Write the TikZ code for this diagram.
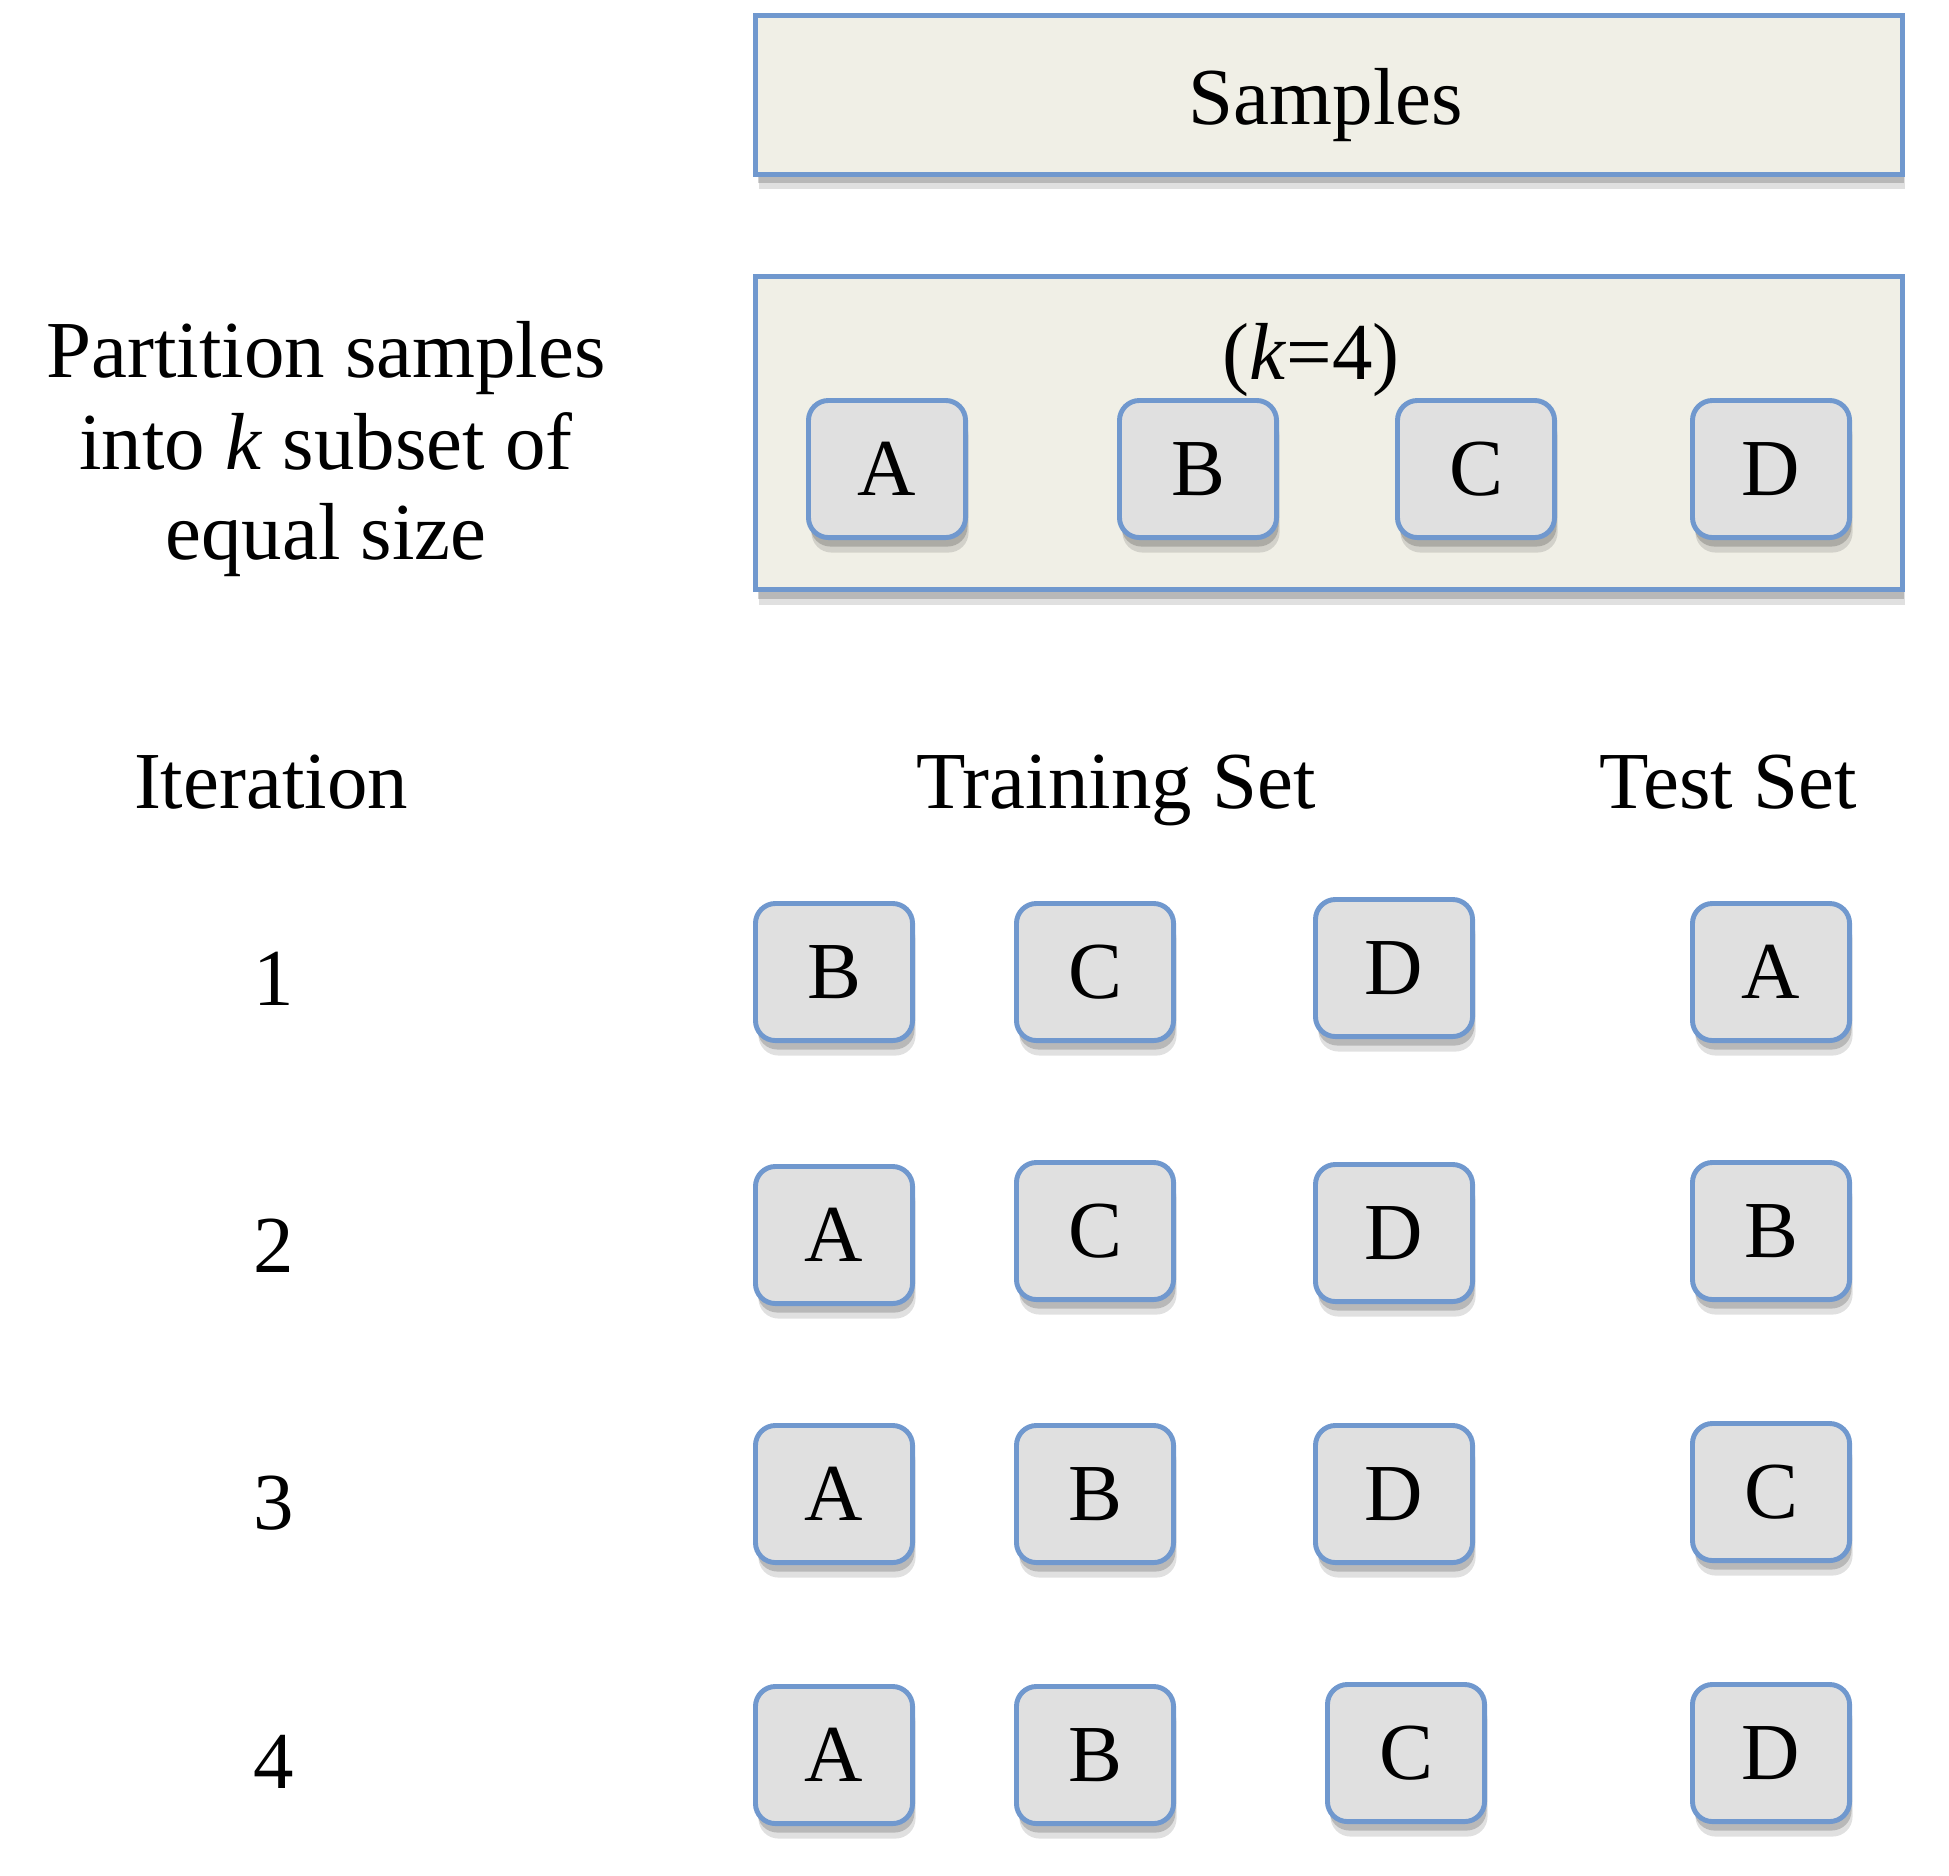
\documentclass[tikz,border=0pt]{standalone}
\usepackage{fontspec}
\setmainfont{Liberation Serif}
\definecolor{bordblue}{RGB}{112,152,206}
\definecolor{beige}{RGB}{240,239,230}
\definecolor{boxgray}{RGB}{224,224,224}
\tikzset{
  shad/.style={
    preaction={fill=black, fill opacity=0.12, draw=none, transform canvas={xshift=0.3mm, yshift=-1.5mm}},
    preaction={fill=black, fill opacity=0.18, draw=none, transform canvas={xshift=0.2mm, yshift=-0.9mm}}},
  bigbox/.style={draw=bordblue, line width=1.4pt, fill=beige, shad, minimum width=11.46cm, inner sep=0pt},
  sbox/.style={draw=bordblue, line width=1.4pt, fill=boxgray, rounded corners=0.2cm, minimum width=1.57cm, minimum height=1.37cm, inner sep=0pt, shad, font=\fontsize{23}{26}\selectfont},
  lbl/.style={anchor=base, inner sep=0pt, font=\fontsize{23}{26}\selectfont}
}
\begin{document}
\begin{tikzpicture}[x=0.01cm, y=-0.01cm]
\useasboundingbox (0,0) rectangle (1949,1875);
% top boxes
\node[bigbox, minimum height=1.58cm] (samples) at (1329,95) {};
\node[lbl] (samplesT) at (1326,124) {Samples};
\node[bigbox, minimum height=3.13cm] (part) at (1329,433) {};
\node[lbl] (kfour) at (1311,379) {(\textit{k}=4)};
\node[sbox] (pA) at (887,469) {A};
\node[sbox] (pB) at (1198,469) {B};
\node[sbox] (pC) at (1476,469) {C};
\node[sbox] (pD) at (1771,469) {D};
% left text
\node[lbl] (l1) at (326,377) {Partition samples};
\node[lbl] (l2) at (326,469) {into \textit{k} subset of};
\node[lbl] (l3) at (326,559) {equal size};
% headers
\node[lbl] (iter) at (271,808) {Iteration};
\node[lbl] (train) at (1116,808) {Training Set};
\node[lbl] (test) at (1728,808) {Test Set};
% iteration numbers
\node[lbl] (n1) at (274,1005) {1};
\node[lbl] (n2) at (274,1272) {2};
\node[lbl] (n3) at (274,1529) {3};
\node[lbl] (n4) at (274,1788) {4};
% row 1
\node[sbox] (r1a) at (834,972) {B};
\node[sbox] (r1b) at (1095,972) {C};
\node[sbox] (r1c) at (1394,968) {D};
\node[sbox] (r1d) at (1771,972) {A};
% row 2
\node[sbox] (r2a) at (834,1235) {A};
\node[sbox] (r2b) at (1095,1231) {C};
\node[sbox] (r2c) at (1394,1233) {D};
\node[sbox] (r2d) at (1771,1231) {B};
% row 3
\node[sbox] (r3a) at (834,1494) {A};
\node[sbox] (r3b) at (1095,1494) {B};
\node[sbox] (r3c) at (1394,1494) {D};
\node[sbox] (r3d) at (1771,1492) {C};
% row 4
\node[sbox] (r4a) at (834,1755) {A};
\node[sbox] (r4b) at (1095,1755) {B};
\node[sbox] (r4c) at (1406,1753) {C};
\node[sbox] (r4d) at (1771,1753) {D};
\end{tikzpicture}
\end{document}
